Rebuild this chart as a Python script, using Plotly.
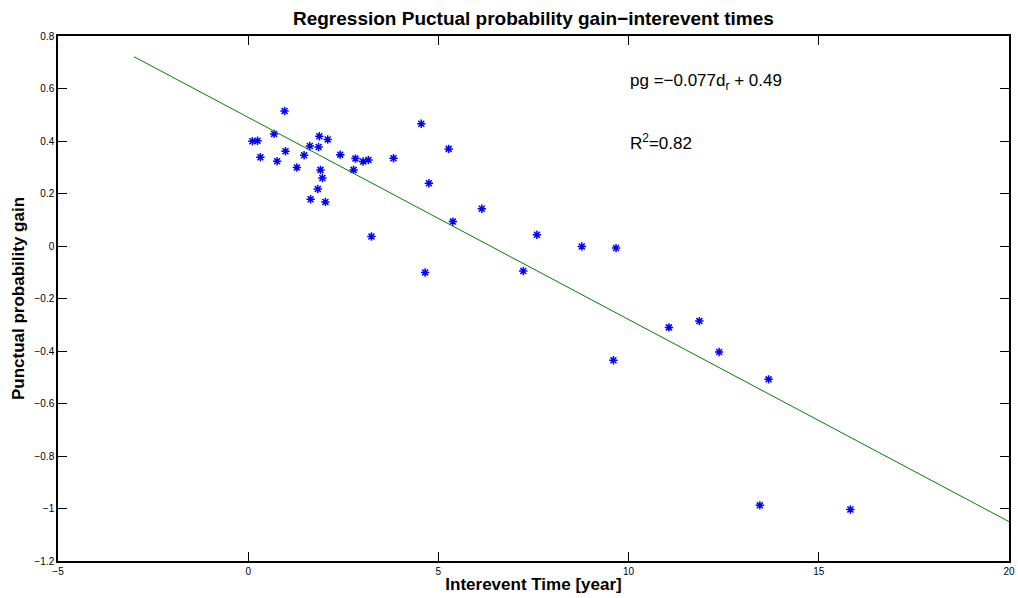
import plotly.graph_objects as go

interevent_time = [0.955, 0.11, 0.245, 0.68, 0.32, 0.98, 0.76, 1.28, 1.47, 1.62,
                   1.87, 1.85, 2.09, 1.90, 1.95, 1.83, 1.64, 2.03, 2.42, 2.82,
                   3.02, 3.16, 2.77, 3.24, 3.82, 4.55, 5.27, 4.75, 6.14, 5.38,
                   7.59, 8.77, 9.67, 4.65, 7.23, 11.06, 11.86, 12.38, 9.60, 13.68,
                   13.45, 15.83]
prob_gain = [0.514, 0.399, 0.401, 0.427, 0.338, 0.361, 0.323, 0.299, 0.346, 0.381,
             0.418, 0.377, 0.406, 0.290, 0.259, 0.217, 0.178, 0.168, 0.348, 0.333,
             0.322, 0.328, 0.290, 0.036, 0.334, 0.466, 0.370, 0.239, 0.142, 0.093,
             0.043, -0.002, -0.008, -0.101, -0.095, -0.310, -0.286, -0.404, -0.435, -0.508,
             -0.988, -1.004]

slope = -0.077
intercept = 0.49
fit_x = [-3, 20]
fit_y = [slope * x + intercept for x in fit_x]

x_ticks = [-5, 0, 5, 10, 15, 20]
y_ticks = [-1.2, -1, -0.8, -0.6, -0.4, -0.2, 0, 0.2, 0.4, 0.6, 0.8]
y_tick_text = ["\u22121.2", "\u22121", "\u22120.8", "\u22120.6", "\u22120.4", "\u22120.2",
               "0", "0.2", "0.4", "0.6", "0.8"]
x_tick_text = ["\u22125", "0", "5", "10", "15", "20"]

FONT = "Liberation Sans, Arial, Helvetica, sans-serif"

fig = go.Figure()
fig.add_trace(go.Scatter(
    x=interevent_time, y=prob_gain, mode="markers",
    marker=dict(symbol="asterisk-open", size=7, color="#0000ff",
                line=dict(color="#0000ff", width=1.5)),
    showlegend=False))
fig.add_trace(go.Scatter(
    x=fit_x, y=fit_y, mode="lines",
    line=dict(color="#008000", width=1), showlegend=False))

fig.update_layout(
    width=1018, height=598,
    margin=dict(l=58, r=9, t=36, b=37, autoexpand=False),
    paper_bgcolor="white", plot_bgcolor="white",
    font=dict(family=FONT, size=10, color="black"),
    title=dict(text="<b>Regression Puctual probability gain\u2212interevent times</b>",
               x=0.524, xanchor="center", y=0.97, yanchor="middle",
               font=dict(size=19, family=FONT)),
    annotations=[
        dict(text="pg =\u22120.077d<sub>r</sub> + 0.49", x=9.98, y=0.624,
             xref="x", yref="y", xanchor="left", yanchor="middle",
             showarrow=False, font=dict(size=17, family=FONT)),
        dict(text="R<sup>2</sup>=0.82", x=9.98, y=0.395,
             xref="x", yref="y", xanchor="left", yanchor="middle",
             showarrow=False, font=dict(size=17, family=FONT)),
    ],
)
fig.update_xaxes(
    range=[-5, 20], tickvals=x_ticks, ticktext=x_tick_text, automargin=False,
    ticks="inside", ticklen=9, tickcolor="black", tickwidth=1,
    showline=True, linecolor="black", linewidth=1.5, mirror="allticks",
    showgrid=False, zeroline=False,
    title=dict(text="<b>Interevent Time [year]</b>", font=dict(size=17, family=FONT), standoff=2),
    tickfont=dict(size=10))
fig.update_yaxes(
    range=[-1.2, 0.8], tickvals=y_ticks, ticktext=y_tick_text, automargin=False,
    ticks="inside", ticklen=9, tickcolor="black", tickwidth=1,
    showline=True, linecolor="black", linewidth=1.5, mirror="allticks",
    showgrid=False, zeroline=False,
    title=dict(text="<b>Punctual probability gain</b>", font=dict(size=17, family=FONT), standoff=6),
    tickfont=dict(size=10))

fig.write_html("out.html")
